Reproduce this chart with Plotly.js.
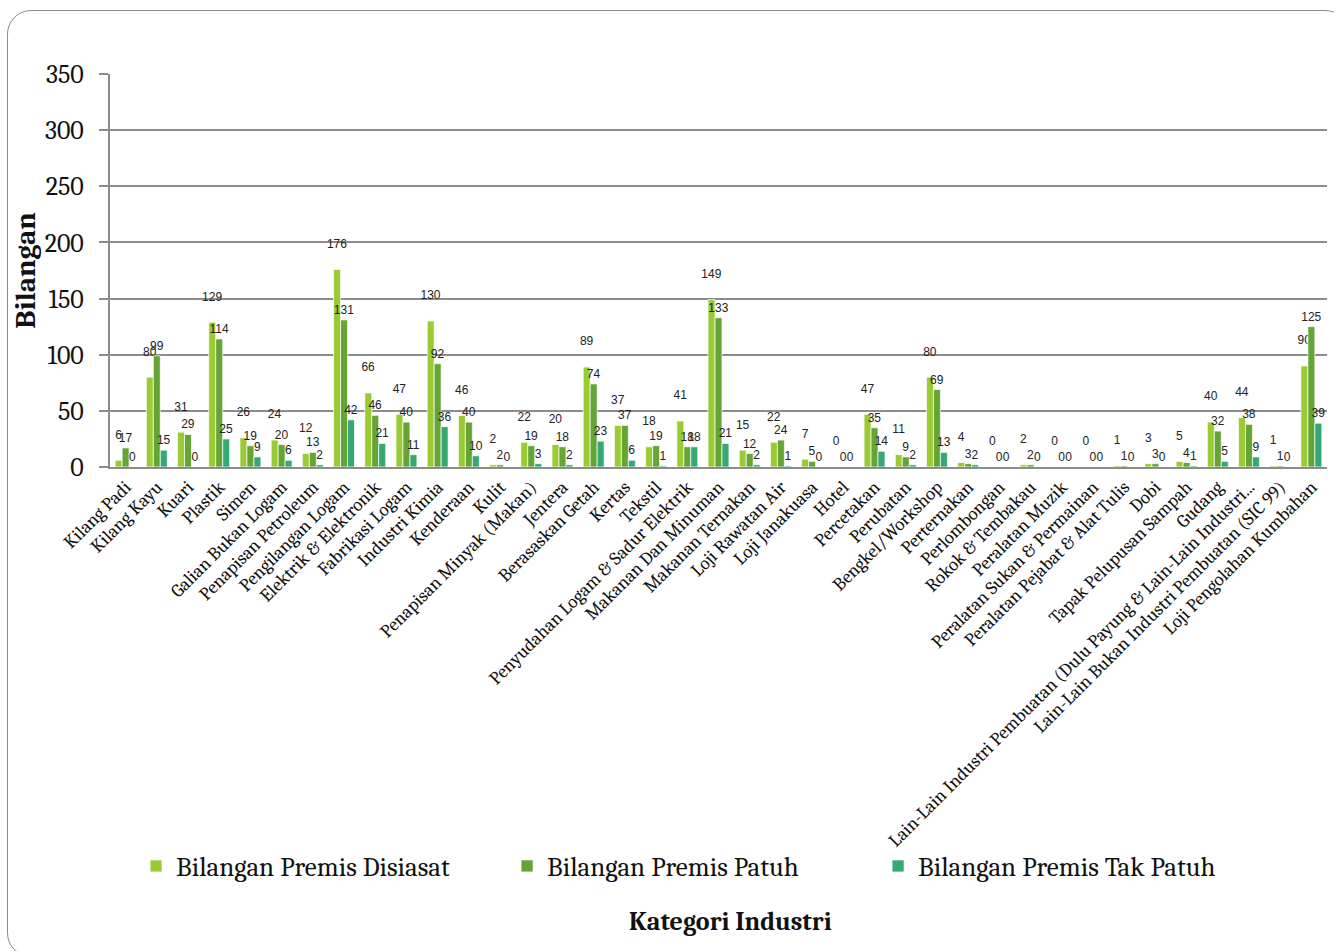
<!DOCTYPE html>
<html>
<head>
<meta charset="utf-8">
<script src="https://cdn.plot.ly/plotly-3.0.1.min.js"></script>
<style>
  html, body { margin: 0; padding: 0; background: #fff; overflow: hidden; }
  #chart { width: 1334px; height: 951px; }
  #frame {
    position: absolute; left: 7px; top: 10px; width: 1340px; height: 945px;
    border: 1.5px solid #8c8c8c; border-radius: 24px; pointer-events: none;
  }
</style>
</head>
<body>
<div id="chart"></div>
<div id="frame"></div>
<script>
'use strict'

// data

const categories = [
  'Kilang Padi', 'Kilang Kayu', 'Kuari', 'Plastik', 'Simen', 'Galian Bukan Logam',
  'Penapisan Petroleum', 'Pengilangan Logam', 'Elektrik & Elektronik', 'Fabrikasi Logam',
  'Industri Kimia', 'Kenderaan', 'Kulit', 'Penapisan Minyak (Makan)', 'Jentera',
  'Berasaskan Getah', 'Kertas', 'Tekstil', 'Penyudahan Logam & Sadur Elektrik',
  'Makanan Dan Minuman', 'Makanan Ternakan', 'Loji Rawatan Air', 'Loji Janakuasa',
  'Hotel', 'Percetakan', 'Perubatan', 'Bengkel/Workshop', 'Perternakan', 'Perlombongan',
  'Rokok & Tembakau', 'Peralatan Muzik', 'Peralatan Sukan & Permainan',
  'Peralatan Pejabat & Alat Tulis', 'Dobi', 'Tapak Pelupusan Sampah', 'Gudang',
  'Lain-Lain Industri Pembuatan (Dulu Payung & Lain-Lain Industri...',
  'Lain-Lain Bukan Industri Pembuatan (SIC 99)', 'Loji Pengolahan Kumbahan'
]

const disiasat = [6, 80, 31, 129, 26, 24, 12, 176, 66, 47, 130, 46, 2, 22, 20, 89, 37, 18, 41,
  149, 15, 22, 7, 0, 47, 11, 80, 4, 0, 2, 0, 0, 1, 3, 5, 40, 44, 1, 90]
const patuh = [17, 99, 29, 114, 19, 20, 13, 131, 46, 40, 92, 40, 2, 19, 18, 74, 37, 19, 18,
  133, 12, 24, 5, 0, 35, 9, 69, 3, 0, 2, 0, 0, 1, 3, 4, 32, 38, 1, 125]
const takPatuh = [0, 15, 0, 25, 9, 6, 2, 42, 21, 11, 36, 10, 0, 3, 2, 23, 6, 1, 18,
  21, 2, 1, 0, 0, 14, 2, 13, 2, 0, 0, 0, 0, 0, 0, 1, 5, 9, 0, 39]

const seriesNames = ['Bilangan Premis Disiasat', 'Bilangan Premis Patuh', 'Bilangan Premis Tak Patuh']
const seriesColors = ['#9acb34', '#64a536', '#35a874']
// first series labels sit one line higher, as in the original
const labelTemplates = ['%{y}<br> ', '%{y}', '%{y}']

const serif = 'Cambria, "Liberation Serif", "DejaVu Serif", serif'

const makeTrace = (vals, i) => ({
  type: 'bar',
  name: seriesNames[i],
  x: categories,
  y: vals,
  texttemplate: labelTemplates[i],
  textposition: 'outside',
  constraintext: 'none',
  cliponaxis: false,
  textfont: { family: 'Liberation Sans, Arial, sans-serif', size: 12, color: '#222' },
  marker: { color: seriesColors[i], line: { color: 'rgba(255,255,255,0.7)', width: 1 } },
  hoverinfo: 'x+y+name'
})

const traces = [disiasat, patuh, takPatuh].map(makeTrace)

const layout = {
  width: 1334,
  height: 951,
  paper_bgcolor: 'rgba(0,0,0,0)',
  plot_bgcolor: '#fff',
  margin: { l: 110, r: 7, t: 74, b: 484 },
  barmode: 'group',
  bargap: 0.33,
  bargroupgap: 0,
  showlegend: true,
  legend: {
    orientation: 'h',
    xref: 'container', yref: 'container',
    x: 0.102, y: 0.089, xanchor: 'left', yanchor: 'middle',
    entrywidth: 326,
    itemwidth: 30,
    font: { family: serif, size: 27, color: '#111' },
    traceorder: 'normal'
  },
  xaxis: {
    type: 'category',
    tickangle: -45,
    tickfont: { family: serif, size: 18.5, color: '#111' },
    showline: true, linecolor: '#8c8c8c', linewidth: 2,
    ticks: '', showgrid: false,
    automargin: false
  },
  yaxis: {
    range: [0, 350],
    dtick: 50,
    tickfont: { family: serif, size: 26, color: '#111' },
    ticklabelstandoff: 10,
    showline: true, linecolor: '#8c8c8c', linewidth: 2,
    ticks: 'outside', ticklen: 9, tickcolor: '#8c8c8c', tickwidth: 2,
    showgrid: true, gridcolor: '#8c8c8c', gridwidth: 2,
    zeroline: false,
    automargin: false,
    title: {
      text: '<b>Bilangan</b>',
      font: { family: serif, size: 29, color: '#111' },
      standoff: 0
    }
  },
  // x axis title sits below the legend, so it is placed by hand
  annotations: [{
    text: '<b>Kategori Industri</b>',
    xref: 'paper', yref: 'paper',
    x: 0.5095, y: -1.158, xanchor: 'center', yanchor: 'middle',
    showarrow: false,
    font: { family: serif, size: 26, color: '#111' }
  }]
}

Plotly.newPlot('chart', traces, layout, { displayModeBar: false, staticPlot: true })
</script>
</body>
</html>
